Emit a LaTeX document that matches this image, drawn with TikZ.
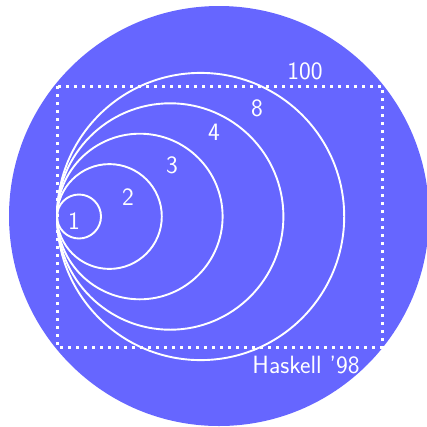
\documentclass[tikz,border=0pt]{standalone}
\tikzset{
  ring/.style={white, line width=1.9pt},
  dotbox/.style={white, line width=3pt, dash pattern=on 3pt off 5pt},
  lbl/.style={white, inner sep=0pt}
}
\begin{document}
\begin{tikzpicture}[x=1pt,y=1pt,font=\sffamily\fontsize{25}{28}\selectfont]
\useasboundingbox (0,0) rectangle (427,-426);
\clip (0,0) rectangle (427,-426);
\fill[blue!60] (219,-216) circle (210pt);
\draw[dotbox] (57,-86) rectangle (382,-347);
\coordinate (tip) at (57,-216.5);
\foreach \r in {0,...,4}
{
	\draw[ring] (tip) ++(22+30.4*\r,0) circle ({22pt+30.4pt*\r});
}
\node[lbl] (one) at (74,-221) {1};
\node[lbl] (two) at (128,-197) {2};
\node[lbl] (three) at (172,-165) {3};
\node[lbl] (four) at (214,-132) {4};
\node[lbl] (eight) at (257,-108) {8};
\node[lbl] (hundred) at (305,-71) {100};
\node[lbl] (haskell) at (306,-365) {Haskell '98};
\end{tikzpicture}
\end{document}
